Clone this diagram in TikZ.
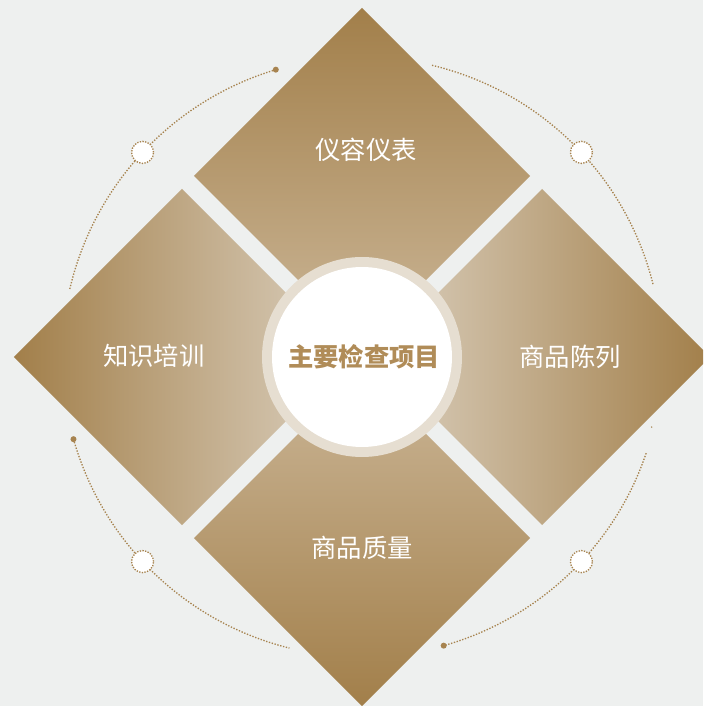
\documentclass[tikz,border=0pt]{standalone}
\usepackage{fontspec}
\newfontfamily\cjk{Noto Sans CJK SC}
\definecolor{bgGrey}{HTML}{EEF0EF}
\definecolor{goldDark}{HTML}{A27F4A}
\definecolor{goldLight}{HTML}{CBB697}
\definecolor{goldPale}{HTML}{DBD0BF}
\definecolor{ringBeige}{HTML}{E6DED1}
\definecolor{titleGold}{HTML}{B08C58}
\definecolor{dotGold}{HTML}{A7834F}

\begin{document}
\begin{tikzpicture}[
            x=0.75pt, y=0.75pt,
            label/.style={text=white, font=\cjk\fontsize{19}{22}\selectfont},
            title/.style={text=titleGold, font=\cjk\bfseries\fontsize{19}{22}\selectfont},
            track/.style={dotGold, line width=1pt, dash pattern=on 1pt off 1.2pt},
            knob/.style={circle, draw=dotGold, fill=white, line width=1pt, dash pattern=on 1pt off 1pt, minimum size=16.5pt, inner sep=0pt},
            pin/.style={circle, fill=dotGold, minimum size=4.5pt, inner sep=0pt}
        ]
            \fill[bgGrey] (-362,-349) rectangle (341,357);
            \clip (-362,-349) rectangle (341,357);

            % four tiles
            \shade[top color=goldDark, bottom color=goldLight] (0,349) -- (168,181) -- (0,13) -- (-168,181) -- cycle;
            \shade[top color=goldLight, bottom color=goldDark] (0,-13) -- (168,-181) -- (0,-349) -- (-168,-181) -- cycle;
            \shade[left color=goldDark, right color=goldPale] (-348,0) -- (-180,168) -- (-12,0) -- (-180,-168) -- cycle;
            \shade[left color=goldPale, right color=goldDark] (12,0) -- (180,168) -- (348,0) -- (180,-168) -- cycle;

            % centre
            \fill[ringBeige] (0,0) circle (100);
            \node[circle, fill=white, minimum size=135pt, inner sep=0pt] (hub) at (0,0) {};
            \node[title] (main) at (2,0) {主要检查项目};

            \node[label] (top) at (4,207) {仪容仪表};
            \node[label] (left) at (-208,1) {知识培训};
            \node[label] (right) at (208,0) {商品陈列};
            \node[label] (bottom) at (0,-191) {商品质量};

            % dotted tracks
            \draw[track] (106.7:300) arc[start angle=106.7, end angle=167, radius=300];
            \draw[track] (76.5:300) arc[start angle=76.5, end angle=14, radius=300];
            \draw[track] (-18.7:300) arc[start angle=-18.7, end angle=-74.2, radius=300];
            \draw[track] (195.9:300) arc[start angle=195.9, end angle=256, radius=300];

            \node[knob] (knobTL) at (137:300) {};
            \node[knob] (knobTR) at (43:300) {};
            \node[knob] (knobBR) at (-43:300) {};
            \node[knob] (knobBL) at (223:300) {};

            \node[pin] (pinTL) at (106.7:300) {};
            \node[pin] (pinBL) at (195.9:300) {};
            \node[pin] (pinBR) at (-74.2:300) {};
            \node[circle, fill=dotGold, minimum size=1.2pt, inner sep=0pt] (speck) at (-13.6:298) {};
        \end{tikzpicture}
\end{document}
